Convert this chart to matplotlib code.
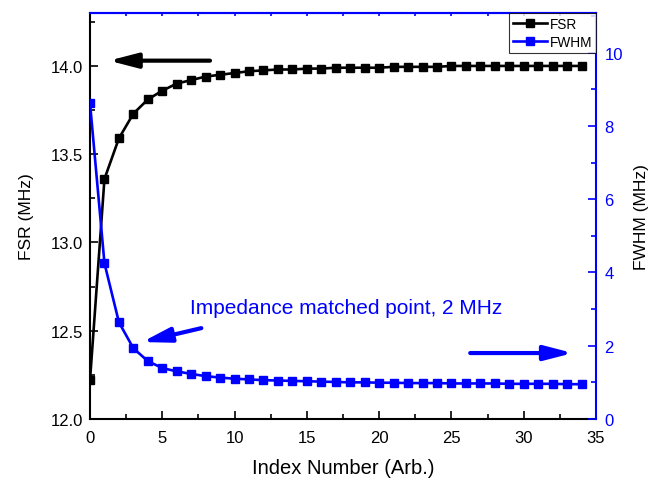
import matplotlib
matplotlib.use('Agg')
import matplotlib.pyplot as plt
from matplotlib.ticker import MultipleLocator, FormatStrFormatter

plt.rcParams['font.family'] = ['Liberation Sans', 'DejaVu Sans']

index = list(range(35))
fsr = [12.22, 13.36, 13.59, 13.73, 13.81, 13.86, 13.90, 13.92, 13.94, 13.95,
       13.96, 13.97, 13.975, 13.98, 13.98, 13.985, 13.985, 13.99, 13.99, 13.99,
       13.99, 13.995, 13.995, 13.995, 13.995, 14.0, 14.0, 14.0, 14.0, 14.0,
       14.0, 14.0, 14.0, 14.0, 14.0]
fwhm = [8.62, 4.25, 2.64, 1.93, 1.58, 1.39, 1.30, 1.23, 1.17, 1.13,
        1.10, 1.08, 1.06, 1.05, 1.04, 1.03, 1.02, 1.01, 1.00, 1.00,
        0.99, 0.99, 0.98, 0.98, 0.98, 0.97, 0.97, 0.97, 0.97, 0.96,
        0.96, 0.96, 0.96, 0.95, 0.95]

fig = plt.figure(figsize=(6.51, 4.81), dpi=100)
ax = fig.add_axes([90 / 651, 61 / 481, 506 / 651, 406 / 481])
ax2 = ax.twinx()

l1, = ax.plot(index, fsr, color='black', lw=1.9, marker='s', ms=6,
              label='FSR', zorder=3)
l2, = ax2.plot(index, fwhm, color='blue', lw=1.9, marker='s', ms=6,
               label='FWHM', zorder=3)

ax.set_xlim(0, 35)
ax.set_ylim(12.0, 14.3)
ax2.set_ylim(0, 11.08)

# bottom / left axes
ax.xaxis.set_major_locator(MultipleLocator(5))
ax.xaxis.set_minor_locator(MultipleLocator(2.5))
ax.yaxis.set_major_locator(MultipleLocator(0.5))
ax.yaxis.set_minor_locator(MultipleLocator(0.25))
ax.yaxis.set_major_formatter(FormatStrFormatter('%.1f'))
ax.tick_params(axis='both', which='major', direction='in', length=6,
               width=1.2, labelsize=12)
ax.tick_params(axis='both', which='minor', direction='in', length=3.5,
               width=1.2)
ax.tick_params(axis='x', which='major', pad=8)
ax.tick_params(axis='y', which='major', pad=5)
ax.tick_params(axis='x', top=False)
for s in ['left', 'bottom']:
    ax.spines[s].set_linewidth(1.5)

# right axis in blue
ax2.yaxis.set_major_locator(MultipleLocator(2))
ax2.yaxis.set_minor_locator(MultipleLocator(1))
ax2.tick_params(axis='y', which='major', direction='in', length=6,
                width=1.2, labelsize=12, colors='blue', pad=6)
ax2.tick_params(axis='y', which='minor', direction='in', length=3.5,
                width=1.2, colors='blue')
ax2.spines['right'].set_color('blue')
ax2.spines['right'].set_linewidth(1.5)
ax2.spines['top'].set_color('blue')
ax2.spines['top'].set_linewidth(1.5)
ax.spines['top'].set_visible(False)
ax.spines['right'].set_visible(False)
ax2.spines['left'].set_visible(False)
ax2.spines['bottom'].set_visible(False)

# blue ticks along the top edge
top = ax.secondary_xaxis('top')
top.xaxis.set_major_locator(MultipleLocator(5))
top.xaxis.set_minor_locator(MultipleLocator(2.5))
top.tick_params(axis='x', which='both', direction='in', length=2.5,
                width=1.2, colors='blue', labeltop=False)
top.spines['top'].set_color('blue')
top.spines['top'].set_linewidth(1.5)

ax.set_xlabel('Index Number (Arb.)', fontsize=14.5, labelpad=9)
ax.set_ylabel('FSR (MHz)', fontsize=12.5, labelpad=12)
ax2.set_ylabel('FWHM (MHz)', fontsize=12.5, labelpad=8)

# direction arrows
style = '-|>,head_length=0.85,head_width=0.22'
ax.annotate('', xy=(1.3, 14.03), xytext=(8.3, 14.03),
            arrowprops=dict(arrowstyle=style, color='black', lw=3,
                            mutation_scale=20, shrinkA=0, shrinkB=0))
ax2.annotate('', xy=(33.4, 1.8), xytext=(26.3, 1.8),
             arrowprops=dict(arrowstyle=style, color='blue', lw=3,
                             mutation_scale=20, shrinkA=0, shrinkB=0))
ax2.annotate('', xy=(3.6, 2.1), xytext=(7.7, 2.48),
             arrowprops=dict(arrowstyle=style, color='blue', lw=3,
                             mutation_scale=20, shrinkA=0, shrinkB=0))
ax2.text(6.9, 3.05, 'Impedance matched point, 2 MHz', color='blue',
         fontsize=15, ha='left', va='center')

leg = ax2.legend(handles=[l1, l2], loc='upper right',
                 bbox_to_anchor=(1.0, 1.0), borderaxespad=0.0,
                 fontsize=9.8, frameon=True, fancybox=False,
                 handlelength=2.5, handletextpad=0.2, borderpad=0.3,
                 labelspacing=0.3, markerscale=0.9)
leg.get_frame().set_edgecolor('black')
leg.get_frame().set_linewidth(0.8)

fig.savefig('out.png', dpi=100)
